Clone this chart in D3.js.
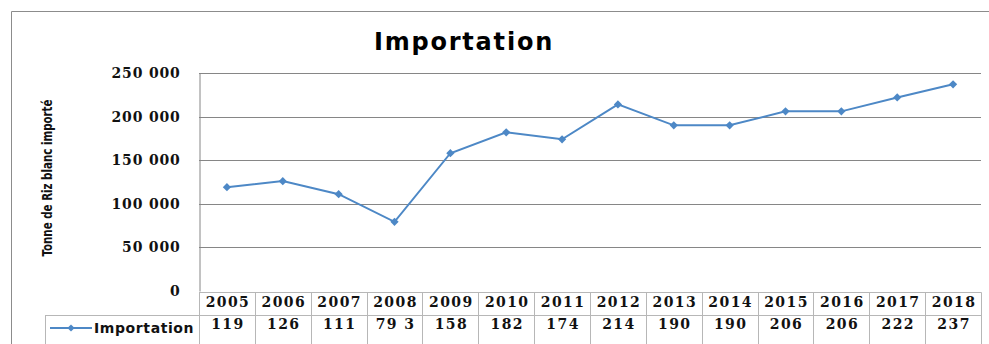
<!DOCTYPE html>
<html>
<head>
<meta charset="utf-8">
<script src="https://cdn.jsdelivr.net/npm/d3@7"></script>
<style>
  body { margin: 0; background: #fff; }
  svg { display: block; }
</style>
</head>
<body>
<svg id="chart"></svg>
<script>
// data
const years = ["2005","2006","2007","2008","2009","2010","2011","2012","2013","2014","2015","2016","2017","2018"];
const importation = [119000,126000,111000,79300,158000,182000,174000,214000,190000,190000,206000,206000,222000,237000];
const tableLabels = ["119","126","111","79 3","158","182","174","214","190","190","206","206","222","237"];
const yTicks = [0,50000,100000,150000,200000,250000];

const svg = d3.select("#chart")
    .attr("width", 989)
    .attr("height", 344);

const locale = d3.formatLocale({ decimal: ",", thousands: " ", grouping: [3], currency: ["", ""] });
const fmt = locale.format(",");

const x = d3.scaleBand()
    .domain(years)
    .range([199, 981]);

const y = d3.scaleLinear()
    .domain([0, 250000])
    .range([291, 73]);

const lineColor = "#4d88c6";
const gridColor = "#868686";
const tableColor = "#b7b7b7";
const serif = "'DejaVu Serif', serif";

// outer chart frame
svg.append("path")
    .attr("d", "M11.5,344 V11.5 H989")
    .attr("fill", "none")
    .attr("stroke", "#8c8c8c");

// title
svg.append("text")
    .attr("x", 464)
    .attr("y", 50)
    .attr("text-anchor", "middle")
    .style("font-family", "'DejaVu Sans', sans-serif")
    .style("font-weight", "bold")
    .style("font-size", "24px")
    .style("letter-spacing", "1.8px")
    .attr("fill", "#000")
    .text("Importation");

// gridlines
svg.selectAll(".grid")
    .data(yTicks.filter(d => d > 0))
    .enter().append("line")
    .attr("class", "grid")
    .attr("x1", 199).attr("x2", 981)
    .attr("y1", d => Math.round(y(d)) + 0.5)
    .attr("y2", d => Math.round(y(d)) + 0.5)
    .attr("stroke", gridColor);

// y axis
const yAxis = svg.append("g")
    .attr("transform", "translate(199.5,0)")
    .call(d3.axisLeft(y).tickValues(yTicks).tickFormat(fmt).tickSize(0).tickPadding(19));
yAxis.select(".domain").attr("stroke", gridColor);
yAxis.selectAll("text")
    .style("font-family", serif)
    .style("font-weight", "bold")
    .style("font-size", "14px")
    .style("letter-spacing", "0.8px")
    .attr("fill", "#111");

// y axis title
svg.append("text")
    .attr("transform", "translate(52,178) rotate(-90)")
    .attr("text-anchor", "middle")
    .attr("textLength", 157)
    .attr("lengthAdjust", "spacingAndGlyphs")
    .style("font-family", "'Liberation Sans Narrow', 'DejaVu Sans Condensed', sans-serif")
    .style("font-weight", "bold")
    .style("font-size", "14px")
    .attr("fill", "#111")
    .text("Tonne de Riz blanc importé");

// data table
const rowTop = 292, rowMid = 315, rowBot = 344;
svg.append("path")
    .attr("d", `M199,${rowTop + 0.5} H981.5 V${rowBot} M45,${rowMid + 0.5} H981.5 M45.5,${rowMid} V${rowBot}`)
    .attr("fill", "none")
    .attr("stroke", tableColor);

svg.selectAll(".col")
    .data(years)
    .enter().append("line")
    .attr("class", "col")
    .attr("x1", d => Math.round(x(d)) + 0.5)
    .attr("x2", d => Math.round(x(d)) + 0.5)
    .attr("y1", rowTop).attr("y2", rowBot)
    .attr("stroke", tableColor);

svg.selectAll(".year")
    .data(years)
    .enter().append("text")
    .attr("class", "year")
    .attr("x", d => x(d) + x.bandwidth() / 2 + 1)
    .attr("y", 307)
    .attr("text-anchor", "middle")
    .style("font-family", serif)
    .style("font-weight", "bold")
    .style("font-size", "14px")
    .style("letter-spacing", "1.4px")
    .attr("fill", "#111")
    .text(d => d);

svg.selectAll(".val")
    .data(tableLabels)
    .enter().append("text")
    .attr("class", "val")
    .attr("x", (d, i) => x(years[i]) + x.bandwidth() / 2 + 1)
    .attr("y", 329)
    .attr("text-anchor", "middle")
    .style("font-family", serif)
    .style("font-weight", "bold")
    .style("font-size", "14px")
    .style("letter-spacing", "1.4px")
    .attr("fill", "#111")
    .text(d => d);

// legend key in table
svg.append("line")
    .attr("x1", 50).attr("x2", 92)
    .attr("y1", 328).attr("y2", 328)
    .attr("stroke", lineColor)
    .attr("stroke-width", 2);
svg.append("path")
    .attr("d", d3.symbol(d3.symbolSquare, 26)())
    .attr("transform", "translate(71,328) rotate(45)")
    .attr("fill", lineColor);
svg.append("text")
    .attr("x", 94)
    .attr("y", 333)
    .style("font-family", "'DejaVu Sans', sans-serif")
    .style("font-weight", "bold")
    .style("font-size", "14px")
    .style("letter-spacing", "0.6px")
    .attr("fill", "#111")
    .text("Importation");

// series line
const line = d3.line()
    .x((d, i) => x(years[i]) + x.bandwidth() / 2)
    .y(d => y(d));

svg.append("path")
    .datum(importation)
    .attr("d", line)
    .attr("fill", "none")
    .attr("stroke", lineColor)
    .attr("stroke-width", 2);

svg.selectAll(".pt")
    .data(importation)
    .enter().append("path")
    .attr("class", "pt")
    .attr("d", d3.symbol(d3.symbolSquare, 34)())
    .attr("transform", (d, i) => `translate(${x(years[i]) + x.bandwidth() / 2},${y(d)}) rotate(45)`)
    .attr("fill", lineColor);
</script>
</body>
</html>
